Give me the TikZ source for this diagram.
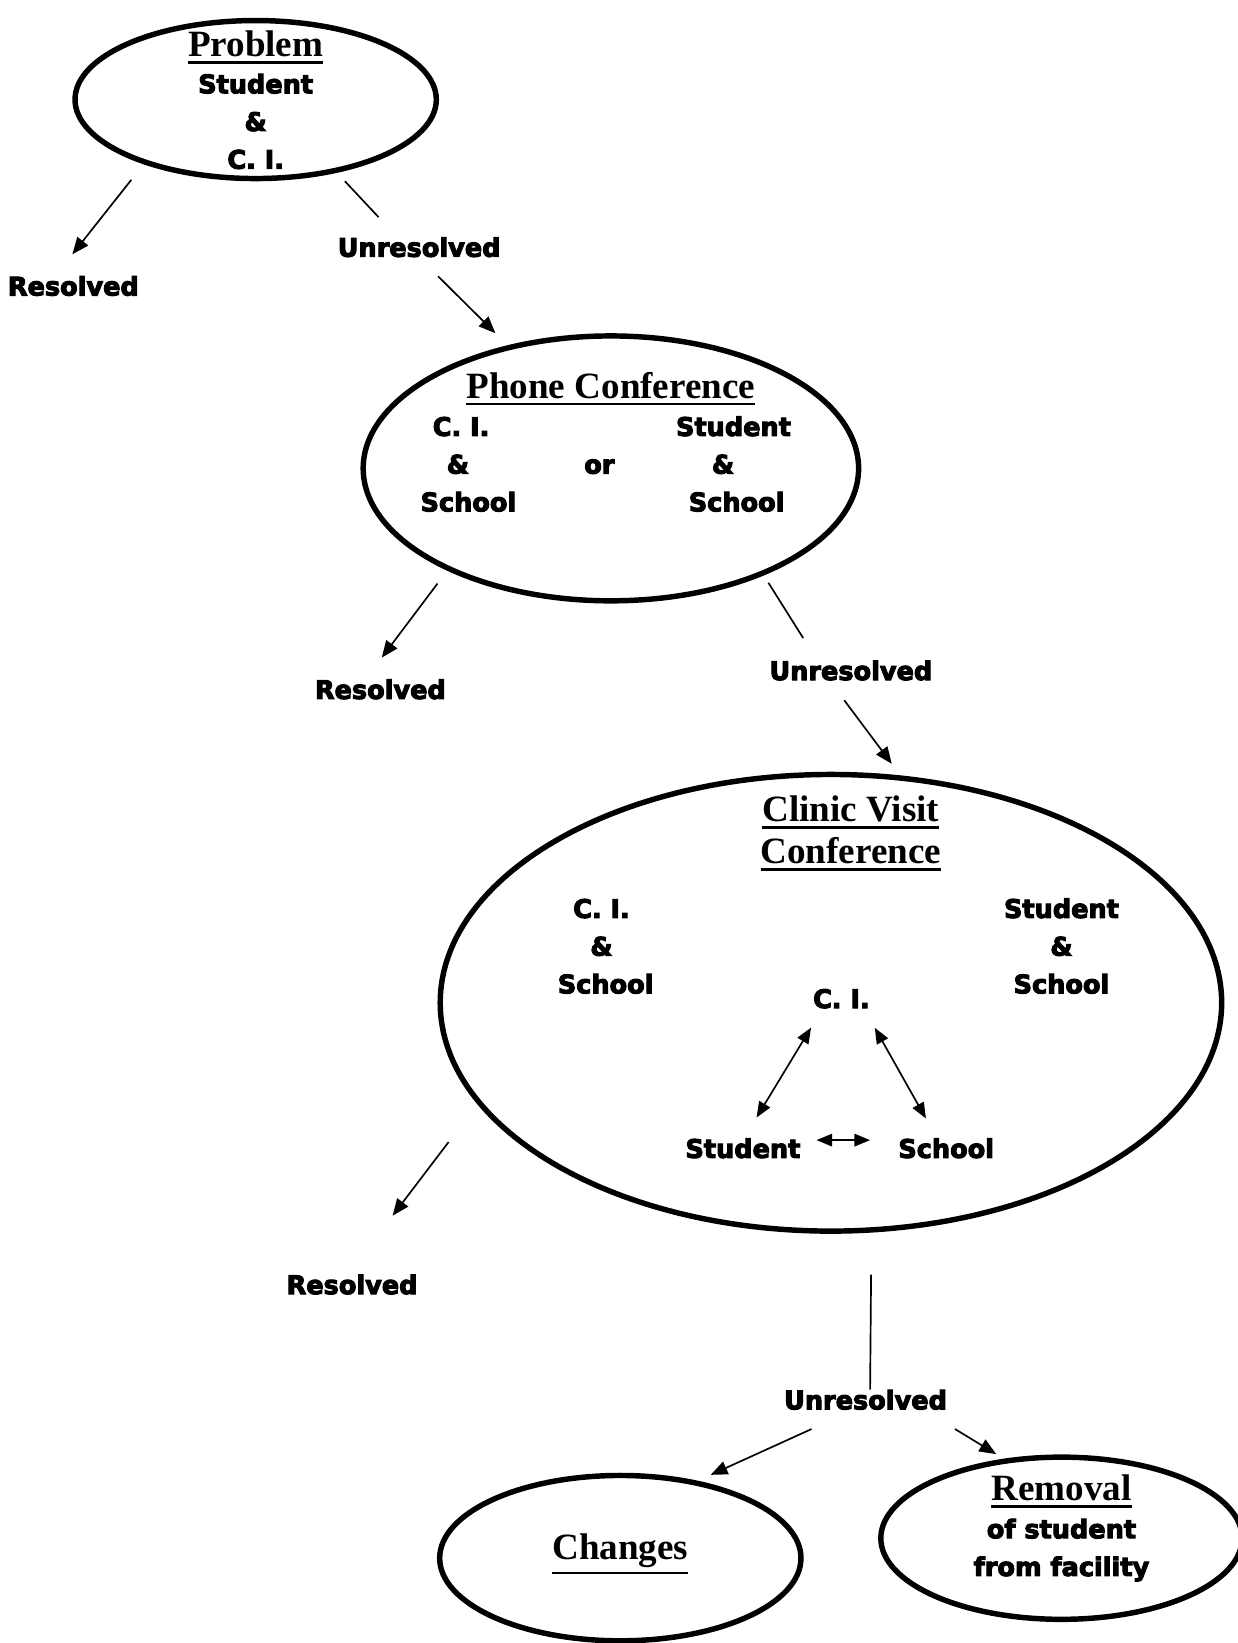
\documentclass[tikz,border=0pt]{standalone}
\usepackage{fontspec}
\setmainfont{Liberation Serif}
\newfontfamily\heavysans[BoldFeatures={FakeBold=4}]{DejaVu Sans}
\usetikzlibrary{arrows.meta}
\usetikzlibrary{shapes.geometric}

\newcommand{\ttl}[1]{\vtop{\hbox{#1}\kern2pt\hrule height 1.3pt}}

\tikzset{
  bubble/.style={draw, ellipse, line width=2.6pt, inner sep=0pt},
  lbl/.style={font=\heavysans\bfseries\fontsize{12.2}{18}\selectfont, anchor=base, inner sep=0pt},
  ttlbl/.style={font=\bfseries\fontsize{17.7}{20}\selectfont, anchor=base, inner sep=0pt},
  link/.style={line width=0.8pt},
  arr/.style={link, -{Triangle[length=8pt,width=6.5pt]}},
  darr/.style={link, {Triangle[length=7.5pt,width=6pt]}-{Triangle[length=7.5pt,width=6pt]}},
}

\begin{document}
\begin{tikzpicture}[x=0.5pt,y=-0.5pt]
\path[use as bounding box, fill=white] (0,0) rectangle (1181,1568);
\node[bubble, minimum width=172.4pt, minimum height=75.4pt] (prob) at (244,95) {};
\node[bubble, minimum width=236.4pt, minimum height=126.4pt] (phone) at (583,447) {};
\node[bubble, minimum width=372.9pt, minimum height=217.9pt] (clinic) at (793,957) {};
\node[bubble, minimum width=172.4pt, minimum height=78.9pt] (chg) at (592,1487) {};
\node[bubble, minimum width=172.4pt, minimum height=77.4pt] (rem) at (1013,1468) {};
\node[ttlbl] (probT) at (244,54) {\ttl{Problem}};
\node[lbl] (probA) at (244,89) {Student};
\node[lbl] (probB) at (244,125) {\&};
\node[lbl] (probC) at (244,161) {C. I.};
\node[lbl] (res1) at (70,282) {Resolved};
\node[lbl] (unres1) at (400,245) {Unresolved};
\node[ttlbl] (phoneT) at (583,380) {\ttl{Phone Conference}};
\node[lbl] (phL1) at (440,416) {C. I.};
\node[lbl] (phL2) at (437,452) {\&};
\node[lbl] (phL3) at (447,488) {School};
\node[lbl] (phOr) at (572,452) {or};
\node[lbl] (phR1) at (700,416) {Student};
\node[lbl] (phR2) at (690,452) {\&};
\node[lbl] (phR3) at (703,488) {School};
\node[lbl] (res2) at (363,667) {Resolved};
\node[lbl] (unres2) at (812,649) {Unresolved};
\node[ttlbl] (clinT1) at (812,784) {\ttl{Clinic Visit}};
\node[ttlbl] (clinT2) at (812,824) {\ttl{Conference}};
\node[lbl] (clL1) at (574,876) {C. I.};
\node[lbl] (clL2) at (574,912) {\&};
\node[lbl] (clL3) at (578,948) {School};
\node[lbl] (clR1) at (1013,876) {Student};
\node[lbl] (clR2) at (1013,912) {\&};
\node[lbl] (clR3) at (1013,948) {School};
\node[lbl] (ci) at (803,962) {C. I.};
\node[lbl] (stu) at (709,1105) {Student};
\node[lbl] (sch) at (903,1105) {School};
\node[lbl] (res3) at (336,1235) {Resolved};
\node[lbl] (unres3) at (826,1345) {Unresolved};
\node[ttlbl] (chgT) at (592,1488) {\ttl{Changes}};
\node[ttlbl] (remT) at (1013,1432) {\ttl{Removal}};
\node[lbl] (remA) at (1013,1468) {of student};
\node[lbl] (remB) at (1013,1504) {from facility};
\draw[arr, shorten <=9.5pt, shorten >=13pt] (prob.-150) -- (res1.150);
\draw[link, shorten <=5.5pt, shorten >=12.9pt] (prob.-42.6) -- (unres1.155);
\draw[arr, shorten <=12.7pt, shorten >=8.2pt] (unres1.south) -- (phone.130);
\draw[arr, shorten <=7.7pt, shorten >=12.8pt] (phone.-148) -- (res2.145);
\draw[link, shorten <=4.1pt, shorten >=12.5pt] (phone.-35.8) -- (unres2.163);
\draw[arr, shorten <=11.6pt, shorten >=6.9pt] (unres2.-154.5) -- (clinic.73.6);
\draw[darr, shorten <=10.5pt, shorten >=11.4pt] (ci.-152) -- (stu.83);
\draw[darr, shorten <=10.4pt, shorten >=10.7pt] (ci.-24.7) -- (sch.132);
\draw[darr, shorten <=7.5pt, shorten >=13.3pt] ([yshift=-1pt]stu.north east) -- ([yshift=-1pt]sch.north west);
\draw[arr, shorten <=22.7pt, shorten >=35.1pt] (clinic.-164.4) -- (res3.111);
\draw[link, shorten <=20pt] (clinic.-80.4) -- (unres3.66.6);
\draw[arr, shorten <=21.8pt, shorten >=6.8pt] (unres3.-140.7) -- (chg.45.3);
\draw[arr, shorten <=17.3pt, shorten >=4.2pt] (unres3.-10.9) -- (rem.126.3);
\end{tikzpicture}
\end{document}
